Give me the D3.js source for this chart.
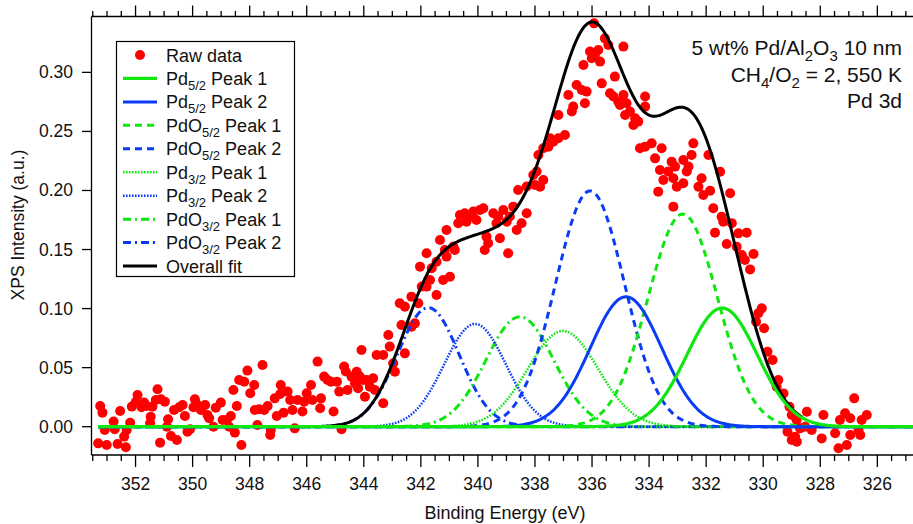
<!DOCTYPE html>
<html><head><meta charset="utf-8">
<script src="https://cdn.jsdelivr.net/npm/d3@7"></script>
<style>
html,body{margin:0;padding:0;background:#fff;}
svg{display:block;font-family:"Liberation Sans",Arial,Helvetica,sans-serif;}
</style></head>
<body><svg id="chart" width="913" height="524"></svg>
<script>
// ---- Raw data (binding energy eV, intensity a.u.) ----
const rawEnergy = [353.31,353.24,353.16,353.08,353.01,352.77,352.73,352.63,352.54,352.40,352.34,352.31,352.19,352.13,351.99,351.93,351.79,351.70,351.61,351.49,351.47,351.41,351.29,351.23,351.14,351.11,350.97,350.90,350.86,350.76,350.65,350.55,350.47,350.35,350.27,350.18,350.09,349.97,349.92,349.83,349.71,349.56,349.48,349.42,349.27,349.19,349.01,348.95,348.80,348.72,348.66,348.57,348.52,348.45,348.37,348.29,348.19,348.08,347.98,347.84,347.82,347.73,347.67,347.55,347.49,347.37,347.28,347.26,347.12,347.05,346.93,346.91,346.81,346.67,346.58,346.50,346.42,346.32,346.15,346.09,346.00,345.85,345.80,345.62,345.53,345.50,345.39,345.27,345.15,345.06,344.94,344.86,344.78,344.69,344.63,344.57,
344.43,344.31,344.25,344.20,344.14,344.08,344.02,343.96,343.90,343.79,343.67,343.61,343.55,343.32,343.32,343.14,343.09,342.97,342.91,342.74,342.68,342.56,342.56,342.33,342.33,342.21,342.09,342.03,341.97,341.80,341.80,341.68,341.62,341.45,341.45,341.33,341.22,341.16,341.10,341.10,340.98,340.86,340.81,340.69,340.63,340.46,340.40,340.22,340.16,340.05,339.93,339.81,339.76,339.70,339.64,339.46,339.35,339.29,339.23,339.11,338.99,338.94,338.88,338.76,338.64,338.59,338.47,338.29,338.29,
338.06,338.00,337.94,337.88,337.82,337.71,337.71,337.53,337.47,337.36,337.18,337.18,336.95,336.83,336.71,336.66,336.54,336.36,336.30,336.25,336.19,336.07,336.01,335.93,335.90,335.78,335.72,335.66,335.55,335.43,335.37,335.25,335.20,335.08,335.02,334.90,334.90,334.84,334.79,334.67,334.55,334.49,334.38,334.32,334.14,334.14,334.14,333.91,333.79,333.68,333.62,333.56,333.50,333.33,333.21,333.15,333.15,333.09,333.03,332.80,332.80,332.68,332.62,332.51,332.45,332.27,332.16,332.10,
331.92,331.86,331.75,331.69,331.51,331.46,331.40,331.28,331.16,331.10,330.93,330.87,330.75,330.64,330.58,330.46,330.34,330.25,330.17,330.05,329.97,329.85,329.67,329.53,329.47,329.29,329.15,329.08,329.00,329.00,328.88,328.83,328.82,328.71,328.53,328.47,328.30,327.95,327.89,327.48,327.36,327.31,327.13,327.07,326.95,326.95,326.81,326.66,326.60,326.55,326.37];
const rawIntensity = [-0.0141,0.0175,0.0119,-0.0028,-0.0155,0.0043,-0.0022,-0.0146,0.0133,-0.0084,-0.0174,-0.0028,0.0034,0.0170,0.0212,0.0269,0.0164,0.0204,0.0175,0.0029,0.0085,0.0170,0.0226,0.0317,-0.0135,0.0232,0.0212,0.0000,0.0063,-0.0079,0.0142,-0.0112,0.0164,0.0184,0.0091,-0.0042,-0.0022,0.0164,0.0232,0.0184,0.0142,0.0184,0.0099,0.0071,0.0000,0.0161,0.0204,0.0057,0.0057,0.0000,0.0091,0.0311,-0.0050,0.0175,0.0396,-0.0155,0.0381,0.0475,0.0283,0.0353,0.0142,0.0015,0.0147,0.0523,0.0142,0.0175,-0.0070,-0.0028,0.0240,0.0091,0.0277,0.0353,0.0119,0.0297,0.0226,0.0142,-0.0014,0.0226,0.0128,0.0212,0.0283,0.0353,0.0226,0.0551,0.0156,0.0240,0.0424,0.0396,0.0381,0.0128,0.0381,0.0297,-0.0022,0.0509,0.0467,0.0311,
0.0424,0.0367,0.0466,0.0325,0.0424,0.0650,0.0396,0.0254,0.0396,0.0339,0.0410,0.0311,0.0607,0.0607,0.0198,0.0777,0.0678,0.0537,0.0466,0.1045,0.0861,0.1016,0.0621,0.1101,0.0847,0.0875,0.1045,0.1355,0.1186,0.1468,0.1186,0.1242,0.1341,0.1397,0.1115,0.1581,0.1242,0.1496,0.1666,0.1440,0.1270,0.1525,0.1496,0.1722,0.1793,0.1807,0.1736,0.1779,0.1821,0.1750,0.1835,0.1849,0.1496,0.1609,0.1553,0.1807,0.1722,0.1779,0.1595,0.1835,0.1736,0.1468,0.1779,0.1863,0.1666,0.2004,0.1722,0.1807,0.2033,
0.2131,0.2047,0.2160,0.2301,0.2032,0.2089,0.2357,0.2371,0.2442,0.2413,0.2442,0.2639,0.2470,0.2809,0.2668,0.2710,0.2893,0.2851,0.3063,0.2738,0.2837,0.3176,0.3119,0.3415,0.3147,0.3190,0.3091,0.2907,0.3288,0.3232,0.2823,0.2795,0.2964,0.2752,0.2724,0.2809,0.3218,0.2639,0.2738,0.2668,0.2555,0.2611,0.2583,0.2357,0.2795,0.2710,0.2371,0.2399,0.2272,0.1990,0.2174,0.2357,0.2089,0.2160,0.2244,0.2103,0.1863,0.2202,0.2032,0.2061,0.2258,0.2160,0.2202,0.2301,0.2399,0.2032,0.2103,0.1962,
0.2300,0.1998,0.1849,0.1643,0.2159,0.1778,0.1736,0.1547,0.1976,0.1722,0.1524,0.1637,0.1454,0.1411,0.1643,0.1332,0.1462,0.0889,0.0960,0.1002,0.0833,0.0635,0.0565,0.0339,0.0395,0.0282,-0.0042,0.0169,0.0099,-0.0113,-0.0085,0.0056,-0.0127,-0.0014,0.0000,0.0127,-0.0028,-0.0099,0.0099,-0.0056,-0.0183,0.0056,0.0113,-0.0155,0.0071,-0.0070,0.0240,-0.0028,-0.0070,0.0056,0.0099];

// ---- Fitted peak components (Gaussian parameters) ----
const peakNames   = ["Pd5/2 Peak 1","Pd5/2 Peak 2","PdO5/2 Peak 1","PdO5/2 Peak 2","Pd3/2 Peak 1","Pd3/2 Peak 2","PdO3/2 Peak 1","PdO3/2 Peak 2"];
const peakCenters = [331.44, 334.81, 332.82, 336.07, 337.02, 340.10, 338.53, 341.74];
const peakHeights = [0.1005, 0.110, 0.180, 0.1996, 0.081, 0.087, 0.093, 0.1008];
const peakFWHM    = [2.90, 2.95, 2.87, 2.85, 2.90, 2.55, 2.80, 2.55];
const fitRange    = [345.9, 328.6];
const curveRange  = [353.31, 324.7];

// ---- Axis ticks ----
const xTicksMajor = [352,350,348,346,344,342,340,338,336,334,332,330,328,326];
const yTicks = [0.00,0.05,0.10,0.15,0.20,0.25,0.30];

// legend & annotation text
const legendLabels = [
  {base:"Raw data"},
  {base:"Pd", sub:"5/2", rest:" Peak 1"},
  {base:"Pd", sub:"5/2", rest:" Peak 2"},
  {base:"PdO", sub:"5/2", rest:" Peak 1"},
  {base:"PdO", sub:"5/2", rest:" Peak 2"},
  {base:"Pd", sub:"3/2", rest:" Peak 1"},
  {base:"Pd", sub:"3/2", rest:" Peak 2"},
  {base:"PdO", sub:"3/2", rest:" Peak 1"},
  {base:"PdO", sub:"3/2", rest:" Peak 2"},
  {base:"Overall fit"}
];

const GREEN = "#10e610", BLUE = "#0a3cf5", RED = "#ff0000";
const styles = [
  {color:GREEN, dash:null, w:3.2},
  {color:BLUE,  dash:null, w:3},
  {color:GREEN, dash:"7,5", w:3},
  {color:BLUE,  dash:"7,5", w:3},
  {color:GREEN, dash:"1.6,1.4", w:2.5},
  {color:BLUE,  dash:"1.6,1.4", w:2.5},
  {color:GREEN, dash:"8,4,2,4", w:3},
  {color:BLUE,  dash:"8,4,2,4", w:3}
];

const svg = d3.select("#chart");
const L = 91.5, R = 913, T = 16.5, B = 455;
const x = d3.scaleLinear().domain([353.544, 324.75]).range([L, R]);
const y = d3.scaleLinear().domain([-0.02396, 0.3473]).range([B, T]);

svg.append("defs").append("clipPath").attr("id","clip")
  .append("rect").attr("x",L).attr("y",T).attr("width",R-L).attr("height",B-T);

function gauss(e,i){const s=peakFWHM[i]/2.3548;const d=e-peakCenters[i];return peakHeights[i]*Math.exp(-d*d/(2*s*s));}
const grid = d3.range(curveRange[0], curveRange[1]-0.001, -0.04);
const fitGrid = d3.range(fitRange[0], fitRange[1]-0.001, -0.04);

const plot = svg.append("g").attr("clip-path","url(#clip)");

// raw points
plot.append("g").selectAll("circle").data(rawEnergy.map((e,i)=>[e,rawIntensity[i]]))
  .join("circle").attr("cx",d=>x(d[0])).attr("cy",d=>y(d[1])).attr("r",5).attr("fill",RED);

const line = d3.line().x(d=>x(d[0])).y(d=>y(d[1]));
[7,6,5,4,3,2,1].forEach(i=>{
  plot.append("path").datum(grid.map(e=>[e,gauss(e,i)]))
    .attr("d",line).attr("fill","none").attr("stroke",styles[i].color)
    .attr("stroke-width",styles[i].w).attr("stroke-dasharray",styles[i].dash);
});
// overall fit = sum of components
plot.append("path").datum(fitGrid.map(e=>[e,d3.sum(peakCenters,(c,i)=>gauss(e,i))]))
  .attr("d",line).attr("fill","none").attr("stroke","#000").attr("stroke-width",3);
// Pd5/2 Peak 1 drawn on top
plot.append("path").datum(grid.map(e=>[e,gauss(e,0)]))
  .attr("d",line).attr("fill","none").attr("stroke",styles[0].color).attr("stroke-width",styles[0].w);

// axes
const ax = svg.append("g").attr("stroke","#000").attr("stroke-width",1.3);
ax.append("line").attr("x1",L).attr("x2",R).attr("y1",B).attr("y2",B);
ax.append("line").attr("x1",L).attr("x2",R).attr("y1",T).attr("y2",T);
ax.append("line").attr("x1",L).attr("x2",L).attr("y1",T).attr("y2",B);

d3.range(353.5, 324.7, -0.5).forEach(v=>{
  const major = Math.abs(v/2-Math.round(v/2))<1e-6;
  const xx = x(v);
  if (xx<L-0.5||xx>R) return;
  ax.append("line").attr("x1",xx).attr("x2",xx).attr("y1",B).attr("y2",B+(major?12:6));
  ax.append("line").attr("x1",xx).attr("x2",xx).attr("y1",T).attr("y2",T-(major?11:5.5));
});
svg.append("g").selectAll("text").data(xTicksMajor).join("text")
  .attr("x",d=>x(d)).attr("y",490).attr("text-anchor","middle").attr("font-size",17.5).attr("fill","#111")
  .text(d=>d);
yTicks.forEach(v=>{
  ax.append("line").attr("x1",L).attr("x2",L-9.5).attr("y1",y(v)).attr("y2",y(v));
});
svg.append("g").selectAll("text").data(yTicks).join("text")
  .attr("x",73).attr("y",d=>y(d)+6).attr("text-anchor","end").attr("font-size",17.5).attr("fill","#111")
  .text(d=>d3.format(".2f")(d));

svg.append("text").attr("x",505).attr("y",519).attr("text-anchor","middle").attr("font-size",18).attr("fill","#111")
  .text("Binding Energy (eV)");
svg.append("text").attr("transform","translate(24,225) rotate(-90)").attr("text-anchor","middle")
  .attr("font-size",17.5).attr("fill","#111").text("XPS Intensity (a.u.)");

// legend
const lfs = 18;
const lg = svg.append("g");
lg.append("rect").attr("x",116.5).attr("y",41.5).attr("width",178).attr("height",235)
  .attr("fill","#fff").attr("stroke","#000").attr("stroke-width",1.2);
const rowY = i => 55 + i*23.45;
legendLabels.forEach((lab,i)=>{
  const cy = rowY(i);
  if (i===0) {
    lg.append("circle").attr("cx",140).attr("cy",cy).attr("r",5).attr("fill",RED);
  } else if (i===9) {
    lg.append("line").attr("x1",123).attr("x2",157).attr("y1",cy).attr("y2",cy).attr("stroke","#000").attr("stroke-width",3);
  } else {
    const s = styles[i-1];
    lg.append("line").attr("x1",123).attr("x2",157).attr("y1",cy).attr("y2",cy)
      .attr("stroke",s.color).attr("stroke-width",s.w).attr("stroke-dasharray",s.dash);
  }
  const t = lg.append("text").attr("x",166).attr("y",cy+6.5).attr("font-size",lfs).attr("fill","#111");
  t.append("tspan").text(lab.base);
  if (lab.sub) {
    t.append("tspan").attr("font-size",13).attr("dy",5).text(lab.sub);
    t.append("tspan").attr("dy",-5).text(lab.rest);
  }
});

// annotation
const annX = 902, afs = 21;
function richLine(yb, parts){
  const t = svg.append("text").attr("x",annX).attr("y",yb).attr("text-anchor","end").attr("font-size",afs).attr("fill","#111");
  let shift=0;
  parts.forEach(p=>{
    const sp=t.append("tspan").text(p[0]);
    if(p[1]){sp.attr("font-size",15).attr("dy",6-shift);shift=6;}
    else if(shift){sp.attr("dy",-shift);shift=0;}
  });
}
richLine(55, [["5 wt% Pd/Al"],["2",1],["O"],["3",1],[" 10 nm"]]);
richLine(82, [["CH"],["4",1],["/O"],["2",1],[" = 2, 550 K"]]);
richLine(108, [["Pd 3d"]]);
</script></body></html>
